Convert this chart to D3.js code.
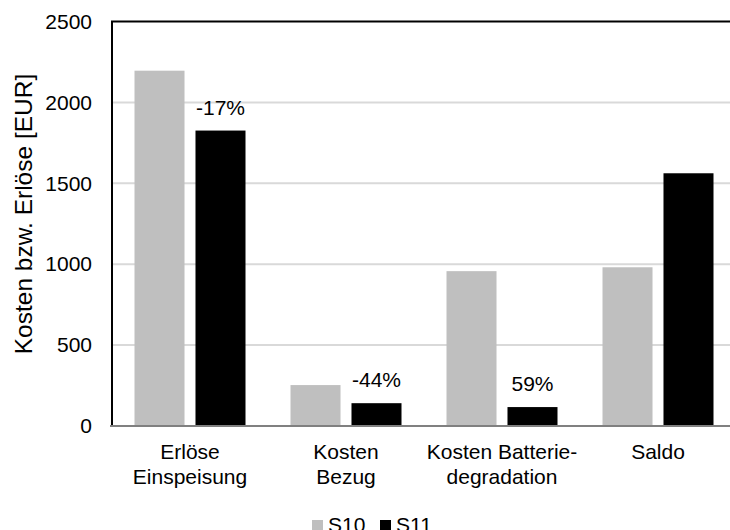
<!DOCTYPE html>
<html>
<head>
<meta charset="utf-8">
<script src="https://cdn.jsdelivr.net/npm/d3@7"></script>
<style>
  html, body { margin: 0; padding: 0; background: #fff; overflow: hidden; }
  text { font-family: "Liberation Sans", Arial, sans-serif; fill: #000; }
</style>
</head>
<body>
<div id="chart"></div>
<script>
const categories = [
    ["Erlöse", "Einspeisung"],
    ["Kosten", "Bezug"],
    ["Kosten Batterie-", "degradation"],
    ["Saldo"]
]
const seriesNames = ["S10", "S11"]
const s10 = [2196, 253, 957, 981]
const s11 = [1826, 141, 117, 1562]
const changeLabels = ["-17%", "-44%", "59%", null]
const yTicks = [0, 500, 1000, 1500, 2000, 2500]

const width = 730
const height = 530
const margin = { top: 21.5, left: 112, right: -6, bottom: 104 }
const colors = d3.scaleOrdinal().domain(seriesNames).range(["#bfbfbf", "#000000"])

const svg = d3.select("#chart").append("svg")
    .attr("width", width)
    .attr("height", height)

const x = d3.scaleBand()
    .domain(d3.range(categories.length))
    .range([margin.left, width - margin.right])

const xInner = d3.scaleBand()
    .domain(seriesNames)
    .range([22.5, x.bandwidth() - 22.5])
    .paddingInner(0.18)

const y = d3.scaleLinear()
    .domain([0, 2500])
    .range([height - margin.bottom, margin.top])

// gridlines
svg.append("g")
    .selectAll("line")
    .data(yTicks.filter(d => d > 0 && d < 2500))
    .join("line")
    .attr("x1", margin.left)
    .attr("x2", width)
    .attr("y1", d => y(d))
    .attr("y2", d => y(d))
    .attr("stroke", "#d9d9d9")
    .attr("stroke-width", 2)

// top border
svg.append("line")
    .attr("x1", margin.left - 1)
    .attr("x2", width)
    .attr("y1", y(2500))
    .attr("y2", y(2500))
    .attr("stroke", "#000")
    .attr("stroke-width", 2)

// y axis labels
svg.append("g")
    .attr("transform", `translate(${margin.left},0)`)
    .call(d3.axisLeft(y).tickValues(yTicks).tickFormat(d3.format("d")).tickSize(0).tickPadding(20))
    .call(g => g.select(".domain").remove())
    .call(g => g.selectAll("text")
        .style("font-size", "21px")
        .attr("fill", "#000"))

svg.append("text")
    .attr("transform", `translate(32,214) rotate(-90)`)
    .attr("text-anchor", "middle")
    .style("font-size", "24.5px")
    .text("Kosten bzw. Erlöse [EUR]")

// bars
const rows = categories.map((c, i) => ({ i, values: [s10[i], s11[i]] }))

svg.append("g")
    .selectAll("g")
    .data(rows)
    .join("g")
    .attr("transform", d => `translate(${x(d.i)},0)`)
    .selectAll("rect")
    .data(d => d.values.map((v, j) => ({ name: seriesNames[j], value: v })))
    .join("rect")
    .attr("x", d => xInner(d.name))
    .attr("width", xInner.bandwidth())
    .attr("y", d => y(d.value))
    .attr("height", d => y(0) - y(d.value))
    .attr("fill", d => colors(d.name))

// change labels above S11 bars
svg.append("g")
    .selectAll("text")
    .data(rows.filter(d => changeLabels[d.i]))
    .join("text")
    .attr("x", d => x(d.i) + xInner("S11") + xInner.bandwidth() / 2)
    .attr("y", d => y(d.values[1]) - 16)
    .attr("text-anchor", "middle")
    .style("font-size", "21px")
    .text(d => changeLabels[d.i])

// left axis line
svg.append("line")
    .attr("x1", margin.left)
    .attr("x2", margin.left)
    .attr("y1", y(2500))
    .attr("y2", y(0))
    .attr("stroke", "#000")
    .attr("stroke-width", 2)

// bottom axis line
svg.append("line")
    .attr("x1", margin.left - 2)
    .attr("x2", width)
    .attr("y1", y(0))
    .attr("y2", y(0))
    .attr("stroke", "#808080")
    .attr("stroke-width", 2)

// category labels
svg.append("g")
    .selectAll("text")
    .data(categories)
    .join("text")
    .attr("x", (d, i) => x(i) + x.bandwidth() / 2)
    .attr("y", y(0) + 33)
    .attr("text-anchor", "middle")
    .style("font-size", "21px")
    .selectAll("tspan")
    .data(d => d)
    .join("tspan")
    .attr("x", function () { return this.parentNode.getAttribute("x") })
    .attr("dy", (d, i) => i === 0 ? 0 : 25)
    .text(d => d)

// legend (sits on the lower edge, as in the source figure)
const legend = svg.append("g")
    .attr("transform", "translate(312,0)")

const legendOffsets = [0, 68]
const items = legend.selectAll("g")
    .data(seriesNames)
    .join("g")
    .attr("transform", (d, i) => `translate(${legendOffsets[i]},0)`)

items.append("rect")
    .attr("y", 520)
    .attr("width", 11)
    .attr("height", 11)
    .attr("fill", d => colors(d))

items.append("text")
    .attr("x", 16)
    .attr("y", 532)
    .style("font-size", "21px")
    .text(d => d)
</script>
</body>
</html>
